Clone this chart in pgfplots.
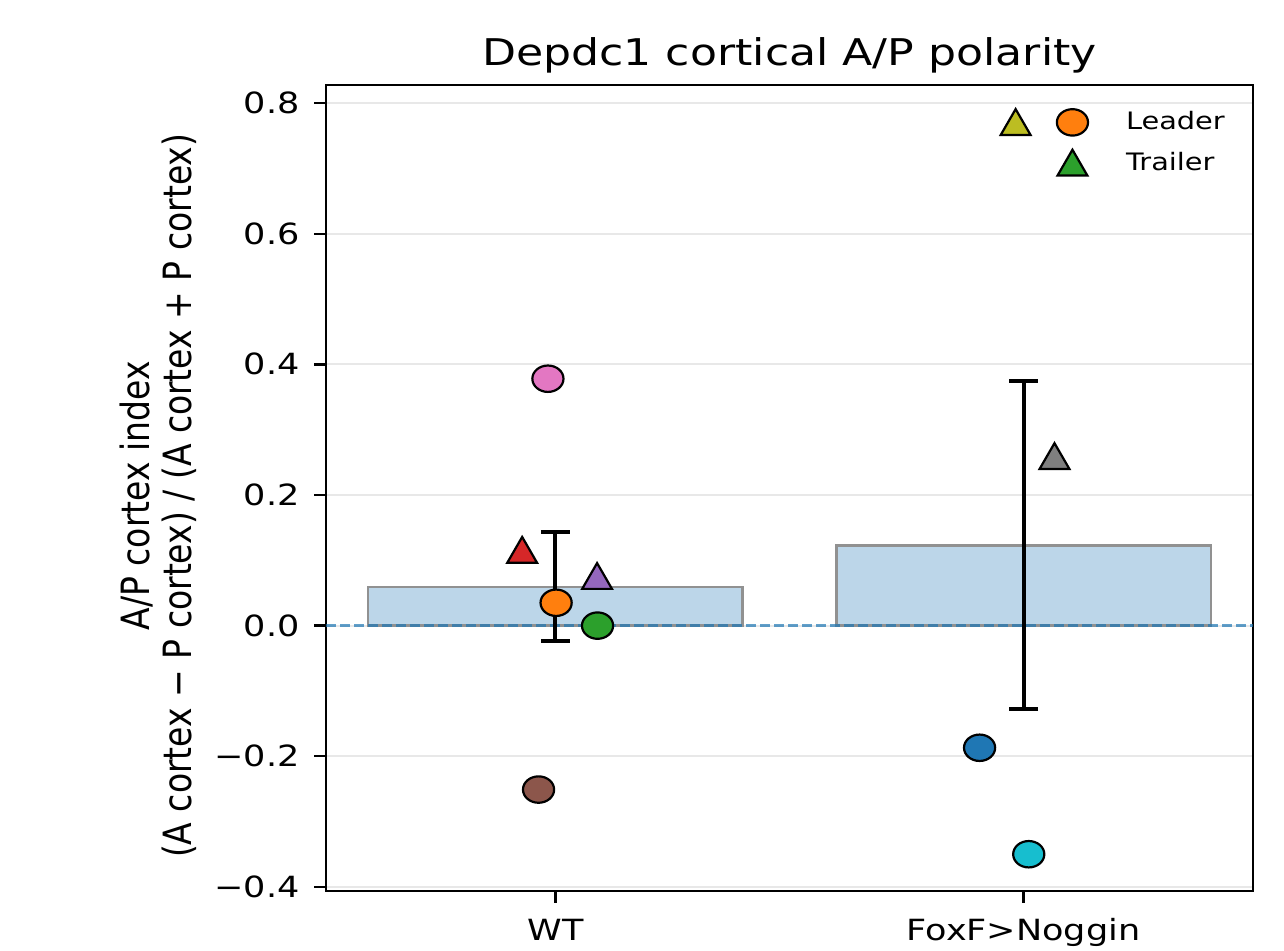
\documentclass[border=0pt]{standalone}
\usepackage{fontspec}
\setmainfont{DejaVu Sans}[FakeStretch=1.2]
\newfontfamily\plainfont{DejaVu Sans}
\usepackage{pgfplots}
\pgfplotsset{compat=1.18}
\definecolor{tabblue}{HTML}{1F77B4}
\definecolor{taborange}{HTML}{FF7F0E}
\definecolor{tabgreen}{HTML}{2CA02C}
\definecolor{tabred}{HTML}{D62728}
\definecolor{tabpurple}{HTML}{9467BD}
\definecolor{tabbrown}{HTML}{8C564B}
\definecolor{tabpink}{HTML}{E377C2}
\definecolor{tabgray}{HTML}{7F7F7F}
\definecolor{tabolive}{HTML}{BCBD22}
\definecolor{tabcyan}{HTML}{17BECF}
\definecolor{barfill}{RGB}{188,214,233}
\definecolor{baredge}{RGB}{145,145,145}
\definecolor{gridgray}{RGB}{232,232,232}
\pgfplotsset{
  circ/.style={only marks, mark=*, mark size=6.6pt, forget plot,
    mark options={xscale=1.18, draw=black, line width=1.1pt, fill=#1}},
  tri/.style={only marks, mark=triangle*, mark size=8.6pt, forget plot,
    mark options={yshift=-2.15pt, draw=black, line width=1.1pt, fill=#1}},
}
\begin{document}
\begin{tikzpicture}
\useasboundingbox (0pt,0pt) rectangle (642pt,475pt);
\begin{axis}[
  at={(163pt,29.6pt)}, anchor=south west,
  scale only axis, width=463.5pt, height=403pt,
  xmin=-0.49, xmax=1.49, ymin=-0.406, ymax=0.828,
  axis line style={line width=1.2pt, black},
  tick pos=left, tick align=outside,
  major tick length=6pt,
  every tick/.style={line width=1.2pt, black},
  xtick={0,1}, xticklabels={WT, FoxF>Noggin},
  ytick={-0.4,-0.2,0,0.2,0.4,0.6,0.8},
  yticklabels={−0.4,−0.2,0.0,0.2,0.4,0.6,0.8},
  ticklabel style={font=\fontsize{14.6}{16}\selectfont},
  yticklabel style={inner sep=0pt, xshift=-7pt},
  xticklabel style={inner sep=0pt, anchor=base, yshift=-19pt},
  ymajorgrids, grid style={gridgray, line width=1pt},
  title={Depdc1 cortical A/P polarity},
  title style={font=\fontsize{18.4}{20}\selectfont, at={(0.5,1)}, anchor=base, yshift=3.8pt},
  ylabel={A/P cortex index\\(A cortex − P cortex) / (A cortex + P cortex)},
  ylabel style={font=\plainfont\fontsize{16.5}{18}\selectfont, align=center,
    at={(axis description cs:-0.181,0.49)}, anchor=center, yscale=1.18},
  legend style={draw=none, fill=none, at={(0.788,0.972)}, anchor=north west,
    font=\fontsize{12}{13}\selectfont, row sep=5.5pt, inner sep=0pt},
  legend cell align=left,
]
% bars (group means)
\addplot[ybar, bar width=0.8, bar shift=0pt, fill=barfill, draw=baredge, line width=1.2pt, forget plot]
  coordinates {(0,0.0592) (1,0.1228)};
% WT points
\addplot[circ=tabpink] coordinates {(-0.016,0.378)};
\addplot[tri=tabred] coordinates {(-0.071,0.116)};
\addplot[circ=taborange] coordinates {(0.0015,0.035)};
\addplot[tri=tabpurple] coordinates {(0.089,0.076)};
\addplot[circ=tabgreen] coordinates {(0.090,0.000)};
\addplot[circ=tabbrown] coordinates {(-0.036,-0.251)};
% FoxF>Noggin points
\addplot[tri=tabgray] coordinates {(1.066,0.2596)};
\addplot[circ=tabblue] coordinates {(0.906,-0.187)};
\addplot[circ=tabcyan] coordinates {(1.011,-0.350)};
\addplot[tri=tabolive] coordinates {(0.983,0.771)};
% zero line
\addplot[tabblue, opacity=0.7, line width=1.2pt, dash pattern=on 5pt off 2pt, forget plot]
  coordinates {(-0.49,0) (1.49,0)};
% error bars
\addplot[draw=none, mark=none, forget plot,
  error bars/.cd, y dir=both, y explicit,
  error bar style={draw=black, line width=2pt},
  error mark options={rotate=90, mark size=7.25pt, line width=2pt, draw=black}]
  coordinates {(0,0.0597) +- (0,0.0836) (1,0.1233) +- (0,0.2517)};
% legend
\addlegendimage{only marks, mark=*, mark size=6.6pt, mark options={xscale=1.18, draw=black, line width=1.1pt, fill=taborange}}
\addlegendentry{\hspace*{17pt}Leader}
\addlegendimage{only marks, mark=triangle*, mark size=8.6pt, mark options={yshift=-2.15pt, draw=black, line width=1.1pt, fill=tabgreen}}
\addlegendentry{\hspace*{17pt}Trailer}
\end{axis}
\end{tikzpicture}
\end{document}
